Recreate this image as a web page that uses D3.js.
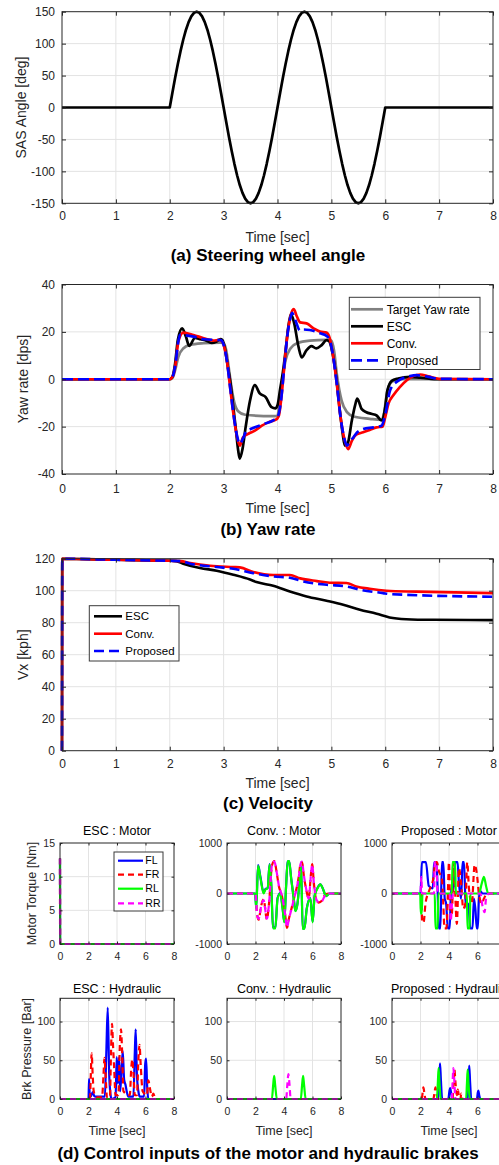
<!DOCTYPE html>
<html>
<head>
<meta charset="utf-8">
<script src="https://cdn.jsdelivr.net/npm/d3@7"></script>
<style>
  body { margin: 0; background: #fff; }
  svg { display: block; }
</style>
</head>
<body>
<svg id="fig" width="499" height="1165"></svg>
<script>
// ---------- (a) steering wheel angle, sampled every 0.05 s between 2 s and 6 s ----------
const steerAngle = [
  0, 23.5, 46.4, 68.1, 88.2, 106.1, 121.4, 133.6, 142.7, 148.2, 150, 148.2, 142.7, 133.6, 121.4, 106.1, 88.2, 68.1, 46.4, 23.5,
  0, -23.5, -46.4, -68.1, -88.2, -106.1, -121.4, -133.6, -142.7, -148.2, -150, -148.2, -142.7, -133.6, -121.4, -106.1, -88.2, -68.1, -46.4, -23.5,
  0, 23.5, 46.4, 68.1, 88.2, 106.1, 121.4, 133.6, 142.7, 148.2, 150, 148.2, 142.7, 133.6, 121.4, 106.1, 88.2, 68.1, 46.4, 23.5,
  0, -23.5, -46.4, -68.1, -88.2, -106.1, -121.4, -133.6, -142.7, -148.2, -150, -148.2, -142.7, -133.6, -121.4, -106.1, -88.2, -68.1, -46.4, -23.5,
  0
];
const steerTime = [0, ...steerAngle.map((_, k) => 2 + k * 0.05), 8];
const steerValue = [0, ...steerAngle, 0];

// ---------- (b) yaw rate [dps] ----------
const yawNames = ["Target Yaw rate", "ESC", "Conv.", "Proposed"];
const yawTargetT = [0, 2.0, 2.05, 2.1, 2.16, 2.25, 2.38, 2.63, 2.94, 3.0, 3.05, 3.1, 3.15, 3.2, 3.27, 3.4, 3.92, 4.0, 4.04, 4.09, 4.15, 4.24, 4.36, 4.6, 4.91, 5.0, 5.05, 5.1, 5.19, 5.29, 5.41, 5.71, 5.93, 5.98, 6.03, 6.12, 6.27, 6.5, 8];
const yawTargetV = [0, 0, 0.5, 3.8, 9.5, 13, 14.5, 15.2, 15.5, 15.2, 12, 4, -4, -10, -13.5, -15, -15.6, -15.5, -9, -0.4, 8, 13, 15.2, 16.3, 16.6, 16.3, 12, 2.4, -9, -13.9, -15.7, -16.7, -17.2, -14, -6, -1.1, 0, 0, 0];
const yawEscT = [0, 2.0, 2.05, 2.1, 2.15, 2.23, 2.3, 2.36, 2.47, 2.57, 2.69, 2.78, 2.87, 2.94, 2.98, 3.03, 3.08, 3.12, 3.18, 3.23, 3.27, 3.3, 3.35, 3.41, 3.49, 3.58, 3.67, 3.78, 3.89, 3.96, 4.0, 4.05, 4.1, 4.15, 4.2, 4.25, 4.31, 4.39, 4.45, 4.54, 4.63, 4.72, 4.82, 4.91, 4.96, 5.01, 5.09, 5.15, 5.21, 5.25, 5.3, 5.38, 5.44, 5.48, 5.56, 5.65, 5.74, 5.84, 5.93, 6.0, 6.04, 6.12, 6.24, 6.46, 6.65, 7.0, 8];
const yawEscV = [0, 0, 1, 6.7, 16.6, 21.5, 18, 14.1, 17.5, 16.9, 16.2, 15.3, 15.9, 16.9, 16.5, 12.3, 5, -0.4, -11.8, -21.7, -30, -33.5, -29.5, -20, -9, -2.5, -6, -7.5, -11.8, -12.3, -11, -4, 3, 12, 22, 27.5, 23.6, 13.7, 9.2, 12.3, 14, 13, 14.4, 16.5, 16, 12.3, 1, -11.8, -23, -28, -27.3, -17.4, -11, -8.2, -12.5, -13.9, -14.6, -15.3, -17.4, -11.8, -4.7, -0.7, 0.3, 1, 0.7, 0, 0];
const yawConvT = [0, 2.0, 2.05, 2.1, 2.16, 2.25, 2.44, 2.63, 2.81, 2.92, 2.97, 3.0, 3.06, 3.12, 3.19, 3.25, 3.3, 3.36, 3.46, 3.58, 3.71, 3.83, 3.95, 4.0, 4.03, 4.08, 4.12, 4.18, 4.24, 4.3, 4.36, 4.42, 4.54, 4.67, 4.79, 4.91, 4.97, 5.03, 5.1, 5.17, 5.25, 5.31, 5.38, 5.46, 5.59, 5.71, 5.84, 5.95, 6.0, 6.06, 6.15, 6.27, 6.4, 6.52, 6.65, 6.8, 7.0, 8];
const yawConvV = [0, 0, 1, 5.2, 15.9, 19.7, 18.7, 17.3, 16.3, 16.6, 16, 14.5, 8, -3.3, -16, -24.5, -28, -24.5, -23, -21.7, -19.6, -18.2, -17.2, -16.5, -15, -6, 3.9, 18, 26.5, 29.6, 26.5, 24, 23.6, 21.5, 20.1, 19.7, 17.3, 10.2, -1.8, -16, -26, -29.5, -26, -23.4, -22.4, -21.4, -20.3, -20, -16, -10.3, -6.8, -3.3, -0.4, 1.4, 2, 1.2, 0.2, 0];
const yawPropT = [0, 2.0, 2.05, 2.1, 2.16, 2.19, 2.44, 2.63, 2.87, 2.95, 3.0, 3.06, 3.12, 3.19, 3.25, 3.3, 3.36, 3.42, 3.5, 3.58, 3.74, 3.92, 4.0, 4.06, 4.12, 4.18, 4.23, 4.27, 4.33, 4.42, 4.48, 4.6, 4.79, 4.91, 4.97, 5.03, 5.1, 5.17, 5.24, 5.29, 5.35, 5.41, 5.48, 5.59, 5.78, 5.93, 6.0, 6.09, 6.21, 6.46, 6.58, 6.8, 7.0, 8];
const yawPropV = [0, 0, 1, 5.5, 16, 18.7, 18, 16.9, 16.6, 16.5, 14.5, 8, -3.3, -16, -24, -27.3, -25, -22, -21, -20.3, -18.9, -17.4, -16, -10, 3.9, 18, 25, 28, 25, 20.5, 21, 20.8, 19.4, 18.3, 16.5, 10, -1.8, -16, -25, -28, -26, -24.5, -22.4, -21, -20.3, -19.6, -15, -4.7, -1.1, 1.3, 1.7, 1.0, 0.2, 0];

// ---------- (c) longitudinal velocity [kph] ----------
const velNames = ["ESC", "Conv.", "Proposed"];
const velEscT = [0, 0.005, 1, 2, 2.12, 2.25, 2.56, 2.87, 3.18, 3.49, 3.61, 3.92, 4.23, 4.54, 4.91, 5.22, 5.53, 5.84, 6.08, 6.39, 6.89, 8];
const velEscV = [0, 120, 119.3, 118.7, 118.5, 116.9, 114.2, 112.5, 110, 107, 105.4, 103.1, 99.5, 96.4, 93.7, 91.2, 88.1, 85.6, 83.3, 82.2, 81.8, 81.6];
const velConvT = [0, 0.005, 1, 2, 2.2, 2.38, 2.75, 3.18, 3.3, 3.55, 3.92, 4.23, 4.42, 4.73, 4.97, 5.28, 5.46, 5.71, 6.02, 6.58, 8];
const velConvV = [0, 120, 119.3, 118.7, 118.5, 117.3, 115.6, 114.8, 114.6, 111.7, 109.8, 109.8, 107.7, 106, 105, 104.8, 102.7, 101.2, 100, 99.4, 98.5];
const velPropT = [0, 0.005, 1, 2, 2.2, 2.38, 2.87, 3.18, 3.55, 3.92, 4.23, 4.48, 4.91, 5.28, 5.53, 5.96, 6.08, 8];
const velPropV = [0, 120, 119.3, 118.7, 118.5, 116.9, 114.8, 113.7, 111, 108.9, 108.1, 105.8, 103.7, 102.7, 100.6, 98.5, 97.9, 96.2];

// ---------- (d) wheel control inputs ----------
const wheelNames = ["FL", "FR", "RL", "RR"];
// motor torque [Nm]
const escMotorT = [0, 0.01, 8];
const escMotorV = [12.7, 0, 0];
const convFLT = [0, 1.98, 2.05, 2.18, 2.35, 2.57, 2.7, 2.85, 2.99, 3.1, 3.23, 3.39, 3.55, 3.74, 3.9, 4.02, 4.14, 4.26, 4.36, 4.5, 4.68, 4.8, 4.95, 5.08, 5.2, 5.31, 5.43, 5.6, 5.85, 6.01, 6.15, 6.35, 6.55, 6.75, 6.95, 7.2, 8];
const convFLV = [0, 0, -280, 560, 320, 20, 90, 110, 580, 220, -670, -680, -90, 10, -280, -560, 110, 630, 640, 310, -90, -340, -190, 210, 540, -690, -690, -290, -90, -560, -40, 110, 180, 80, -50, 0, 0];
const convRLT = convFLT;
const convRLV = [0, 0, -300, 550, 300, 0, 80, 100, 570, 200, -690, -690, -100, 0, -300, -570, 100, 640, 640, 300, -100, -350, -200, 200, 530, -700, -700, -300, -100, -570, -50, 100, 180, 80, -50, 0, 0];
const convFRT = [0, 2.0, 2.1, 2.22, 2.4, 2.57, 2.8, 2.95, 3.16, 3.32, 3.5, 3.63, 3.86, 4.09, 4.21, 4.35, 4.56, 4.75, 4.91, 5.05, 5.15, 5.26, 5.4, 5.55, 5.73, 5.9, 5.98, 6.1, 6.25, 6.43, 6.67, 6.85, 7.1, 8];
const convFRV = [0, 0, -380, -520, -240, -120, -510, -190, 560, 640, 390, 160, -60, -440, -680, -490, -260, -40, 140, 360, 580, 620, 340, 90, -90, 410, 580, 190, -110, -180, -140, -40, 0, 0];
const convRRT = convFRT;
const convRRV = [0, 0, -400, -500, -250, -130, -500, -200, 570, 630, 400, 170, -50, -430, -670, -500, -270, -50, 130, 350, 570, 630, 350, 100, -100, 400, 570, 200, -100, -170, -150, -50, 0, 0];
const propFLT = [0, 2.0, 2.1, 2.38, 2.58, 2.86, 2.96, 3.12, 3.2, 3.28, 3.4, 3.5, 3.6, 3.7, 3.8, 3.92, 4.05, 4.15, 4.3, 4.45, 4.6, 4.7, 4.85, 4.95, 5.05, 5.15, 5.25, 5.35, 5.5, 5.65, 5.75, 5.85, 5.95, 6.02, 6.1, 6.2, 6.35, 8];
const propFLV = [0, 0, 620, 620, 150, 100, 620, 620, 100, -690, -690, 620, 620, -100, -200, -690, -690, 100, 50, 620, 620, 200, -100, 620, 620, -100, -300, -200, -690, -690, -100, -300, -690, -690, -100, 50, 0, 0];
const propFRT = [0, 2.05, 2.12, 2.22, 2.35, 2.6, 2.9, 3.05, 3.15, 3.3, 3.5, 3.6, 3.68, 3.82, 3.92, 4.0, 4.08, 4.2, 4.32, 4.42, 4.55, 4.7, 4.85, 5.0, 5.15, 5.28, 5.4, 5.6, 5.8, 5.95, 6.1, 6.3, 6.45, 6.7, 8];
const propFRV = [0, 0, -570, -570, -200, 50, 300, 620, 620, 430, 300, -200, -690, -690, 0, 620, -300, -400, 620, 100, -600, 500, 200, -300, -200, 620, 100, -200, 570, 400, 0, -200, -100, 0, 0];
const propRLT = [0, 1.98, 2.02, 2.08, 2.14, 3.0, 3.05, 3.2, 3.26, 4.2, 4.25, 4.42, 4.48, 5.25, 5.3, 5.45, 5.5, 6.1, 6.3, 6.45, 6.6, 6.75, 8];
const propRLV = [0, 0, -400, -400, 0, 0, -690, -690, 0, 0, 620, 620, 0, 0, -690, -690, 0, 0, 200, 330, 150, 0, 0];
const propRRT = [0, 2.0, 2.05, 2.12, 2.95, 3.0, 3.12, 3.2, 4.05, 4.12, 4.22, 4.3, 6.2, 6.35, 6.5, 6.6, 6.8, 8];
const propRRV = [0, 0, 330, 0, 0, 620, 620, 0, 0, -550, -150, 0, 0, -250, -370, -100, 0, 0];

// hydraulic brake pressure [Bar]
const zeroT = [0, 8];
const zeroV = [0, 0];
const escFLPT = [0, 2.0, 2.04, 2.08, 2.15, 2.3, 2.4, 2.5, 3.15, 3.25, 3.35, 3.45, 3.55, 3.6, 3.9, 3.98, 4.06, 4.14, 4.22, 4.3, 4.4, 4.5, 4.6, 4.68, 4.8, 5.15, 5.25, 5.31, 5.4, 5.5, 5.6, 5.9, 5.98, 6.04, 6.12, 6.2, 8];
const escFLPV = [0, 0, 26, 8, 3, 9, 4, 3, 3, 60, 118, 33, 5, 0, 2, 54, 20, 54, 10, 30, 62, 25, 18, 10, 3, 3, 60, 90, 30, 10, 3, 3, 45, 52, 15, 0, 0];
const escFRPT = [0, 2.1, 2.16, 2.22, 2.3, 2.36, 2.45, 2.6, 2.95, 3.05, 3.12, 3.2, 3.3, 3.5, 3.58, 3.65, 3.72, 3.8, 3.9, 4.1, 4.2, 4.28, 4.36, 4.45, 4.9, 5.0, 5.08, 5.15, 5.25, 5.4, 5.5, 5.58, 5.66, 5.8, 6.1, 6.2, 6.3, 6.45, 6.55, 6.7, 8];
const escFRPV = [0, 0, 30, 59, 28, 11, 5, 2, 2, 30, 53, 30, 2, 2, 60, 97, 70, 40, 5, 5, 70, 90, 60, 10, 5, 40, 51, 35, 5, 5, 50, 70, 45, 10, 5, 24, 15, 3, 7, 0, 0];
const convRLPT = [0, 3.15, 3.24, 3.31, 3.38, 3.5, 5.18, 5.27, 5.34, 5.41, 5.52, 8];
const convRLPV = [0, 0, 18, 30, 18, 0, 0, 18, 30, 18, 0, 0];
const convRRPT = [0, 4.15, 4.24, 4.31, 4.38, 4.47, 8];
const convRRPV = [0, 0, 20, 32, 20, 0, 0];
const propFLPT = [0, 3.25, 3.31, 3.37, 3.43, 3.52, 3.95, 4.03, 4.08, 4.15, 4.22, 5.32, 5.37, 5.42, 5.48, 5.56, 5.96, 6.02, 6.06, 6.12, 6.2, 8];
const propFLPV = [0, 0, 25, 46, 25, 0, 0, 10, 14, 8, 0, 0, 22, 43, 22, 0, 0, 8, 11, 5, 0, 0];
const propFRPT = [0, 2.08, 2.15, 2.2, 2.27, 2.35, 2.9, 2.98, 3.05, 3.12, 3.2, 4.25, 4.32, 4.38, 4.45, 4.55, 4.62, 4.7, 4.8, 4.86, 4.95, 8];
const propFRPV = [0, 0, 8, 15, 8, 0, 0, 8, 15, 8, 0, 0, 25, 38, 22, 5, 12, 3, 0, 7, 0, 0];
const propRLPT = [0, 3.15, 3.22, 3.27, 3.33, 3.42, 5.2, 5.26, 5.31, 5.37, 5.46, 8];
const propRLPV = [0, 0, 22, 40, 22, 0, 0, 20, 38, 20, 0, 0];
const propRRPT = [0, 4.2, 4.26, 4.31, 4.37, 4.45, 8];
const propRRPV = [0, 0, 25, 40, 25, 0, 0];

// tick values
const timeTicks = [0, 1, 2, 3, 4, 5, 6, 7, 8];
const subTimeTicks = [0, 2, 4, 6, 8];
const steerTicks = [-150, -100, -50, 0, 50, 100, 150];
const yawTicks = [-40, -20, 0, 20, 40];
const velTicks = [0, 20, 40, 60, 80, 100, 120];
const escTorqueTicks = [0, 5, 10, 15];
const torqueTicks = [-1000, 0, 1000];
const pressureTicks = [0, 50, 100];

// ---------- drawing ----------
const svg = d3.select("#fig");
const FONT = '"Liberation Sans", Arial, Helvetica, sans-serif';
const INK = "#262626";
const GRID = "#e3e3e3";
const wheelColors = ["#0000ff", "#ff0000", "#00ff00", "#ff00ff"];
const wheelDash = [null, "6,4", null, "6,4"];

function axesBox(o) {
  const x = d3.scaleLinear().domain(o.xd).range([o.l, o.r]);
  const y = d3.scaleLinear().domain(o.yd).range([o.b, o.t]);
  const g = svg.append("g");
  g.append("rect").attr("x", o.l).attr("y", o.t).attr("width", o.r - o.l).attr("height", o.b - o.t).attr("fill", "#fff");
  g.append("g").selectAll("line").data(o.xt.filter(d => d > o.xd[0] && d < o.xd[1])).join("line")
    .attr("x1", d => x(d)).attr("x2", d => x(d)).attr("y1", o.t).attr("y2", o.b)
    .attr("stroke", GRID).attr("stroke-width", 1);
  g.append("g").selectAll("line").data(o.yt.filter(d => d > o.yd[0] && d < o.yd[1])).join("line")
    .attr("x1", o.l).attr("x2", o.r).attr("y1", d => y(d)).attr("y2", d => y(d))
    .attr("stroke", GRID).attr("stroke-width", 1);
  const marks = g.append("g");
  const frame = g.append("g");
  frame.append("rect").attr("x", o.l).attr("y", o.t).attr("width", o.r - o.l).attr("height", o.b - o.t)
    .attr("fill", "none").attr("stroke", INK).attr("stroke-width", 1);
  const fmt = d => String(d);
  const put = (axis, tx, ty) => frame.append("g").attr("transform", `translate(${tx},${ty})`).call(axis)
    .call(s => {
      s.select(".domain").remove();
      s.selectAll("line").attr("stroke", INK);
      s.selectAll("text").attr("fill", INK).style("font-size", o.fs + "px").style("font-family", FONT);
    });
  put(d3.axisBottom(x).tickValues(o.xt).tickSize(-o.tl).tickPadding(o.xp).tickFormat(fmt), 0, o.b);
  put(d3.axisTop(x).tickValues(o.xt).tickSize(-o.tl).tickFormat(""), 0, o.t);
  put(d3.axisLeft(y).tickValues(o.yt).tickSize(-o.tl).tickPadding(o.yp).tickFormat(fmt), o.l, 0);
  put(d3.axisRight(y).tickValues(o.yt).tickSize(-o.tl).tickFormat(""), o.r, 0);
  return { x, y, marks, o };
}

function series(P, ts, vs, color, width, dash, curve) {
  const pts = ts.map((t, i) => [t, vs[i]]);
  P.marks.append("path").datum(pts)
    .attr("d", d3.line().x(d => P.x(d[0])).y(d => P.y(d[1])).curve(curve || d3.curveLinear))
    .attr("fill", "none").attr("stroke", color).attr("stroke-width", width)
    .attr("stroke-dasharray", dash || null).attr("stroke-linejoin", "round");
}

function text(str, x, y, size, opts = {}) {
  const t = svg.append("text").attr("x", x).attr("y", y).text(str)
    .attr("font-family", FONT).attr("font-size", size)
    .attr("fill", opts.fill || INK).attr("text-anchor", opts.anchor || "middle")
    .attr("font-weight", opts.bold ? "bold" : null);
  if (opts.rotate) t.attr("transform", `rotate(-90,${x},${y})`);
  return t;
}

function legend(box, items, o) {
  const g = svg.append("g");
  g.append("rect").attr("x", box[0]).attr("y", box[1]).attr("width", box[2] - box[0]).attr("height", box[3] - box[1])
    .attr("fill", "#fff").attr("stroke", "#3a3a3a").attr("stroke-width", 1);
  items.forEach((it, i) => {
    g.append("line").attr("x1", o.s0).attr("x2", o.s1).attr("y1", o.ys[i]).attr("y2", o.ys[i])
      .attr("stroke", it.color).attr("stroke-width", it.width).attr("stroke-dasharray", it.dash || null);
    g.append("text").attr("x", o.tx).attr("y", o.ys[i]).attr("dy", "0.35em").text(it.label)
      .attr("font-family", FONT).attr("font-size", o.fs).attr("fill", "#000");
  });
}

const smooth = d3.curveMonotoneX;

// (a)
const A = axesBox({ l: 62, r: 493, t: 11.7, b: 203.3, xd: [0, 8], yd: [-150, 150], xt: timeTicks, yt: steerTicks, fs: 12, tl: 4, xp: 8.5, yp: 7 });
series(A, steerTime, steerValue, "#000", 2.7);
text("SAS Angle [deg]", 26, 107.5, 14, { rotate: true });
text("Time [sec]", 277.5, 241.7, 14);
text("(a) Steering wheel angle", 268, 260.5, 17, { bold: true, fill: "#000" });

// (b)
const B = axesBox({ l: 62, r: 493, t: 284.5, b: 474, xd: [0, 8], yd: [-40, 40], xt: timeTicks, yt: yawTicks, fs: 12, tl: 4, xp: 10, yp: 7 });
const yawStyles = [
  { color: "#808080", width: 2.7 }, { color: "#000000", width: 2.7 },
  { color: "#ff0000", width: 2.7 }, { color: "#0000ff", width: 2.7, dash: "11,5" }
];
[[yawTargetT, yawTargetV], [yawEscT, yawEscV], [yawConvT, yawConvV], [yawPropT, yawPropV]].forEach((s, i) =>
  series(B, s[0], s[1], yawStyles[i].color, yawStyles[i].width, yawStyles[i].dash, smooth));
legend([349.3, 297.3, 480, 369.5], yawNames.map((n, i) => ({ label: n, ...yawStyles[i] })),
  { s0: 351, s1: 383, tx: 386.7, ys: [309.3, 326.3, 343.3, 360.3], fs: 12 });
text("Yaw rate [dps]", 28, 379, 14, { rotate: true });
text("Time [sec]", 277.5, 513.3, 14);
text("(b) Yaw rate", 268, 535, 17, { bold: true, fill: "#000" });

// (c)
const C = axesBox({ l: 62, r: 493, t: 558.7, b: 750.7, xd: [0, 8], yd: [0, 120], xt: timeTicks, yt: velTicks, fs: 12, tl: 4, xp: 8.5, yp: 7 });
const velStyles = [
  { color: "#000000", width: 2.6 }, { color: "#ff0000", width: 2.6 }, { color: "#0000ff", width: 2.6, dash: "10,5" }
];
[[velEscT, velEscV], [velConvT, velConvV], [velPropT, velPropV]].forEach((s, i) =>
  series(C, s[0], s[1], velStyles[i].color, velStyles[i].width, velStyles[i].dash, smooth));
legend([89.3, 605.7, 179, 661], velNames.map((n, i) => ({ label: n, ...velStyles[i] })),
  { s0: 94, s1: 122, tx: 125.3, ys: [616.3, 633.7, 651], fs: 11.5 });
text("Vx [kph]", 28, 654.7, 14, { rotate: true });
text("Time [sec]", 277.5, 788.3, 14);
text("(c) Velocity", 268, 809.3, 17, { bold: true, fill: "#000" });

// (d)
const cols = [[60, 174], [227, 341], [392, 506]];
const row1 = [843, 944], row2 = [998.3, 1099];
const subOpts = (c, r, yd, yt) => ({ l: c[0], r: c[1], t: r[0], b: r[1], xd: [0, 8], yd, xt: subTimeTicks, yt, fs: 10.5, tl: 2.5, xp: 8.5, yp: 5 });

function wheelSet(P, sets) {
  sets.forEach((s, i) => series(P, s[0], s[1], wheelColors[i], 2.2, wheelDash[i], smooth));
}

const D1 = axesBox(subOpts(cols[0], row1, [0, 15], escTorqueTicks));
wheelSet(D1, [[escMotorT, escMotorV], [escMotorT, escMotorV], [escMotorT, escMotorV], [escMotorT, escMotorV]]);
const D2 = axesBox(subOpts(cols[1], row1, [-1000, 1000], torqueTicks));
wheelSet(D2, [[convFLT, convFLV], [convFRT, convFRV], [convRLT, convRLV], [convRRT, convRRV]]);
const D3 = axesBox(subOpts(cols[2], row1, [-1000, 1000], torqueTicks));
wheelSet(D3, [[propFLT, propFLV], [propFRT, propFRV], [propRLT, propRLV], [propRRT, propRRV]]);

const D4 = axesBox(subOpts(cols[0], row2, [0, 130], pressureTicks));
wheelSet(D4, [[escFLPT, escFLPV], [escFRPT, escFRPV], [zeroT, zeroV], [zeroT, zeroV]]);
const D5 = axesBox(subOpts(cols[1], row2, [0, 130], pressureTicks));
wheelSet(D5, [[zeroT, zeroV], [zeroT, zeroV], [convRLPT, convRLPV], [convRRPT, convRRPV]]);
const D6 = axesBox(subOpts(cols[2], row2, [0, 130], pressureTicks));
wheelSet(D6, [[propFLPT, propFLPV], [propFRPT, propFRPV], [propRLPT, propRLPV], [propRRPT, propRRPV]]);

legend([114, 852, 163, 911], wheelNames.map((n, i) => ({ label: n, color: wheelColors[i], width: 2.2, dash: wheelDash[i] })),
  { s0: 118, s1: 143, tx: 145.3, ys: [860.7, 874.7, 888.7, 903.3], fs: 10.5 });

const subTitles1 = ["ESC : Motor", "Conv. : Motor", "Proposed : Motor"];
const subTitles2 = ["ESC : Hydraulic", "Conv. : Hydraulic", "Proposed : Hydraulic"];
cols.forEach((c, i) => {
  const cx = (c[0] + c[1]) / 2;
  text(subTitles1[i], cx, 835, 12.5, { fill: "#000" });
  text(subTitles2[i], cx, 992.7, 12.5, { fill: "#000" });
  text("Time [sec]", cx, 1135, 12.5);
});
text("Motor Torque [Nm]", 35.5, 893.5, 12.5, { rotate: true });
text("Brk Pressure [Bar]", 30.7, 1049, 12.5, { rotate: true });
text("(d) Control inputs of the motor and hydraulic brakes", 268, 1159.3, 17, { bold: true, fill: "#000" });
</script>
</body>
</html>
